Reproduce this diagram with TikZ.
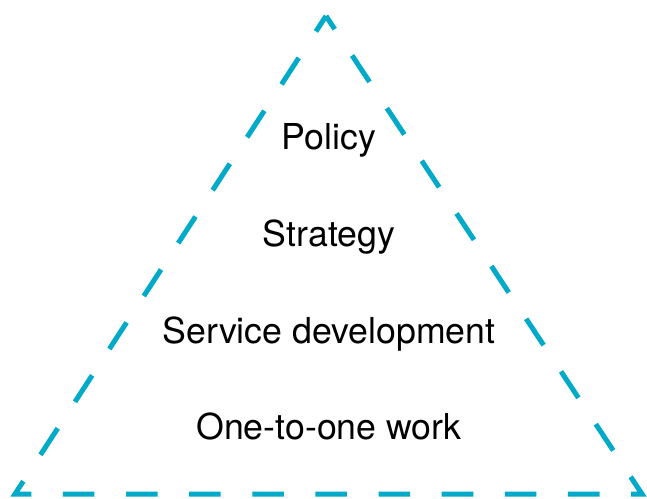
\documentclass[tikz,border=0pt]{standalone}
\usepackage{fontspec}
\setmainfont{TeX Gyre Heros}
\usepackage{tikz}
\usetikzlibrary{positioning}
\definecolor{pyramide}{RGB}{0,170,200}

\begin{document}
\begin{tikzpicture}[x=1pt, y=1pt,
  edge/.style={draw=pyramide, line width=5pt, dash pattern=on 31.6pt off 31.53pt, dash phase=15.8pt},
  tier/.style={anchor=base, font=\fontsize{35.7}{40}\selectfont, inner sep=0pt}
]
  \useasboundingbox (0,0) rectangle (647,498);

  % Ecken
  \coordinate (left) at (15,4);
  \coordinate (top) at (326,482);
  \coordinate (right) at (642,4);

  % Rand (gestrichelt)
  \draw[edge] (top) -- (right) -- (left) -- cycle;

  % Ebenen
  \node[tier] (policy) at (329,348) {Policy};
  \node[tier] (strategy) at (329,251) {Strategy};
  \node[tier] (service) at (329,154) {Service development};
  \node[tier] (onetoone) at (329,59) {One-to-one work};
\end{tikzpicture}
\end{document}
